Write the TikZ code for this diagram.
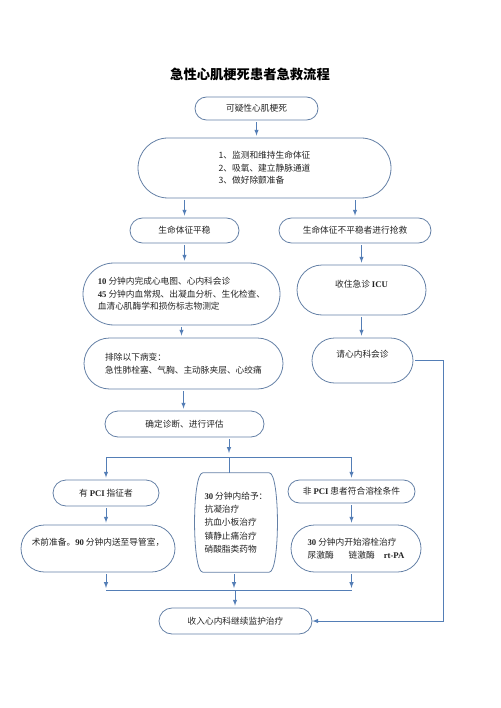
\documentclass[tikz,border=0pt]{standalone}
\usepackage{fontspec}
\setmainfont{Noto Sans CJK SC}
\newfontfamily\timesfont{Liberation Serif}
\usetikzlibrary{arrows}
\usetikzlibrary{shapes}
\definecolor{BoxBlue}{RGB}{100,128,166}
\definecolor{LineBlue}{RGB}{84,126,182}
\definecolor{TextGray}{RGB}{35,35,35}
\newcommand{\Lat}[1]{{\timesfont\bfseries #1}}
\tikzstyle{StepNode}=[rounded rectangle, draw=BoxBlue, line width=0.8pt, inner sep=0pt, text=TextGray, font=\fontsize{8.7}{12.5}\selectfont]
\tikzstyle{ListNode}=[StepNode, align=left]
\tikzstyle{DrugNode}=[rectangle, inner sep=0pt, align=left, text=TextGray, font=\fontsize{8.7}{13.2}\selectfont]
\tikzstyle{BoxLine}=[draw=BoxBlue, line width=0.8pt]
\tikzstyle{Arrow}=[->, draw=LineBlue, line width=1pt, shorten <=2pt, shorten >=2pt]
\tikzstyle{Wire}=[draw=LineBlue, line width=1pt]
\tikzset{>=latex}

\begin{document}
\begin{tikzpicture}[x=1pt,y=-1pt]
\useasboundingbox (0,0) rectangle (500,708);

\node[font=\fontsize{13.3}{16}\selectfont\bfseries](Title) at (250,74) {急性心肌梗死患者急救流程};

\node[StepNode, minimum width=123pt, minimum height=23pt](Suspect) at (256.5,108.5) {可疑性心肌梗死};
\node[ListNode, minimum width=253pt, minimum height=60pt](Support) at (264.5,168) {1、监测和维持生命体征\\2、吸氧、建立静脉通道\\3、做好除颤准备};
\node[StepNode, minimum width=109pt, minimum height=25pt](Stable) at (184.5,230.5) {生命体征平稳};
\node[StepNode, minimum width=152pt, minimum height=25pt](Unstable) at (355,230.5) {生命体征不平稳者进行抢救};
\node[ListNode, minimum width=197pt, minimum height=62pt](Exam) at (181.5,294) {\Lat{10} 分钟内完成心电图、心内科会诊\\\Lat{45} 分钟内血常规、出凝血分析、生化检查、\\血清心肌酶学和损伤标志物测定};
\node[StepNode, minimum width=129pt, minimum height=50pt, align=center](ICU) at (361.5,290) {收住急诊 \Lat{ICU}\\\mbox{}};
\node[ListNode, minimum width=199pt, minimum height=51pt](Exclude) at (183.5,363.5) {排除以下病变：\\急性肺栓塞、气胸、主动脉夹层、心绞痛};
\node[StepNode, minimum width=101pt, minimum height=45pt, align=left](Consult) at (362.5,360.5) {请心内科会诊\\\mbox{}};
\node[StepNode, minimum width=159pt, minimum height=26pt](Diagnose) at (184.5,424) {确定诊断、进行评估};
\node[StepNode, minimum width=106pt, minimum height=26pt](Pci) at (106,493) {有 \Lat{PCI} 指征者};
\node[DrugNode, minimum width=78pt, minimum height=99pt](Drug) at (236,522.5) {\Lat{30} 分钟内给予：\\抗凝治疗\\抗血小板治疗\\镇静止痛治疗\\硝酸脂类药物};
\node[StepNode, minimum width=127pt, minimum height=23pt](Lysis) at (351.5,491.5) {非 \Lat{PCI} 患者符合溶栓条件};
\node[StepNode, minimum width=154pt, minimum height=47pt, align=left](Cath) at (98,548.5) {术前准备。\Lat{90} 分钟内送至导管室，\\\mbox{}};
\node[ListNode, minimum width=130pt, minimum height=47pt](Thromb) at (356,548.5) {\Lat{30} 分钟内开始溶栓治疗\\尿激酶\hspace{15pt}链激酶\hspace{9pt}\Lat{rt-PA}};
\node[StepNode, minimum width=153pt, minimum height=26pt](Ward) at (235.5,621) {收入心内科继续监护治疗};

% barrel outline of the drug box
\draw[BoxLine]([xshift=6pt]Drug.north west) -- ([xshift=-6pt]Drug.north east)
  .. controls ([xshift=5pt]Drug.north east) and ([xshift=5pt]Drug.south east) .. ([xshift=-6pt]Drug.south east)
  -- ([xshift=6pt]Drug.south west)
  .. controls ([xshift=-5pt]Drug.south west) and ([xshift=-5pt]Drug.north west) .. ([xshift=6pt]Drug.north west) -- cycle;

\coordinate (Split) at (229,457);
\coordinate (Merge) at (235,590);

\draw[Arrow](Suspect.south) -- (Suspect.south |- Support.north);
\draw[Arrow](Stable.north |- Support.south) -- (Stable.north);
\draw[Arrow](Unstable.north |- Support.south) -- (Unstable.north);
\draw[Arrow](Stable.south) -- (Stable.south |- Exam.north);
\draw[Arrow](ICU.north |- Unstable.south) -- (ICU.north);
\draw[Arrow](Exam.south) -- (Exam.south |- Exclude.north);
\draw[Arrow](ICU.south) -- (ICU.south |- Consult.north);
\draw[Arrow](Exclude.south) -- (Exclude.south |- Diagnose.north);
\draw[Arrow, shorten >=0pt](Consult.east) -- ++(30,0) |- (Ward.east);

\draw[Arrow, shorten >=4pt](Split |- Diagnose.south) -- (Split);
\draw[Wire](Split) -- (Split |- Drug.north);
\draw[Arrow, shorten <=0pt](Split) -| (Pci.north);
\draw[Arrow, shorten <=0pt](Split) -| (Lysis.north);
\draw[Arrow](Pci.south) -- (Pci.south |- Cath.north);
\draw[Arrow](Lysis.south) -- (Lysis.south |- Thromb.north);

\draw[Arrow](Pci.south |- Cath.south) -- (Pci.south |- Merge);
\draw[Arrow]([xshift=-2pt]Drug.south) -- ([xshift=-2pt]Drug.south |- Merge);
\draw[Arrow](Lysis.south |- Thromb.south) -- (Lysis.south |- Merge);
\draw[Wire](Pci.south |- Merge) -- (Lysis.south |- Merge);
\draw[Arrow, shorten <=0pt](Merge) -- (Merge |- Ward.north);
\end{tikzpicture}
\end{document}
